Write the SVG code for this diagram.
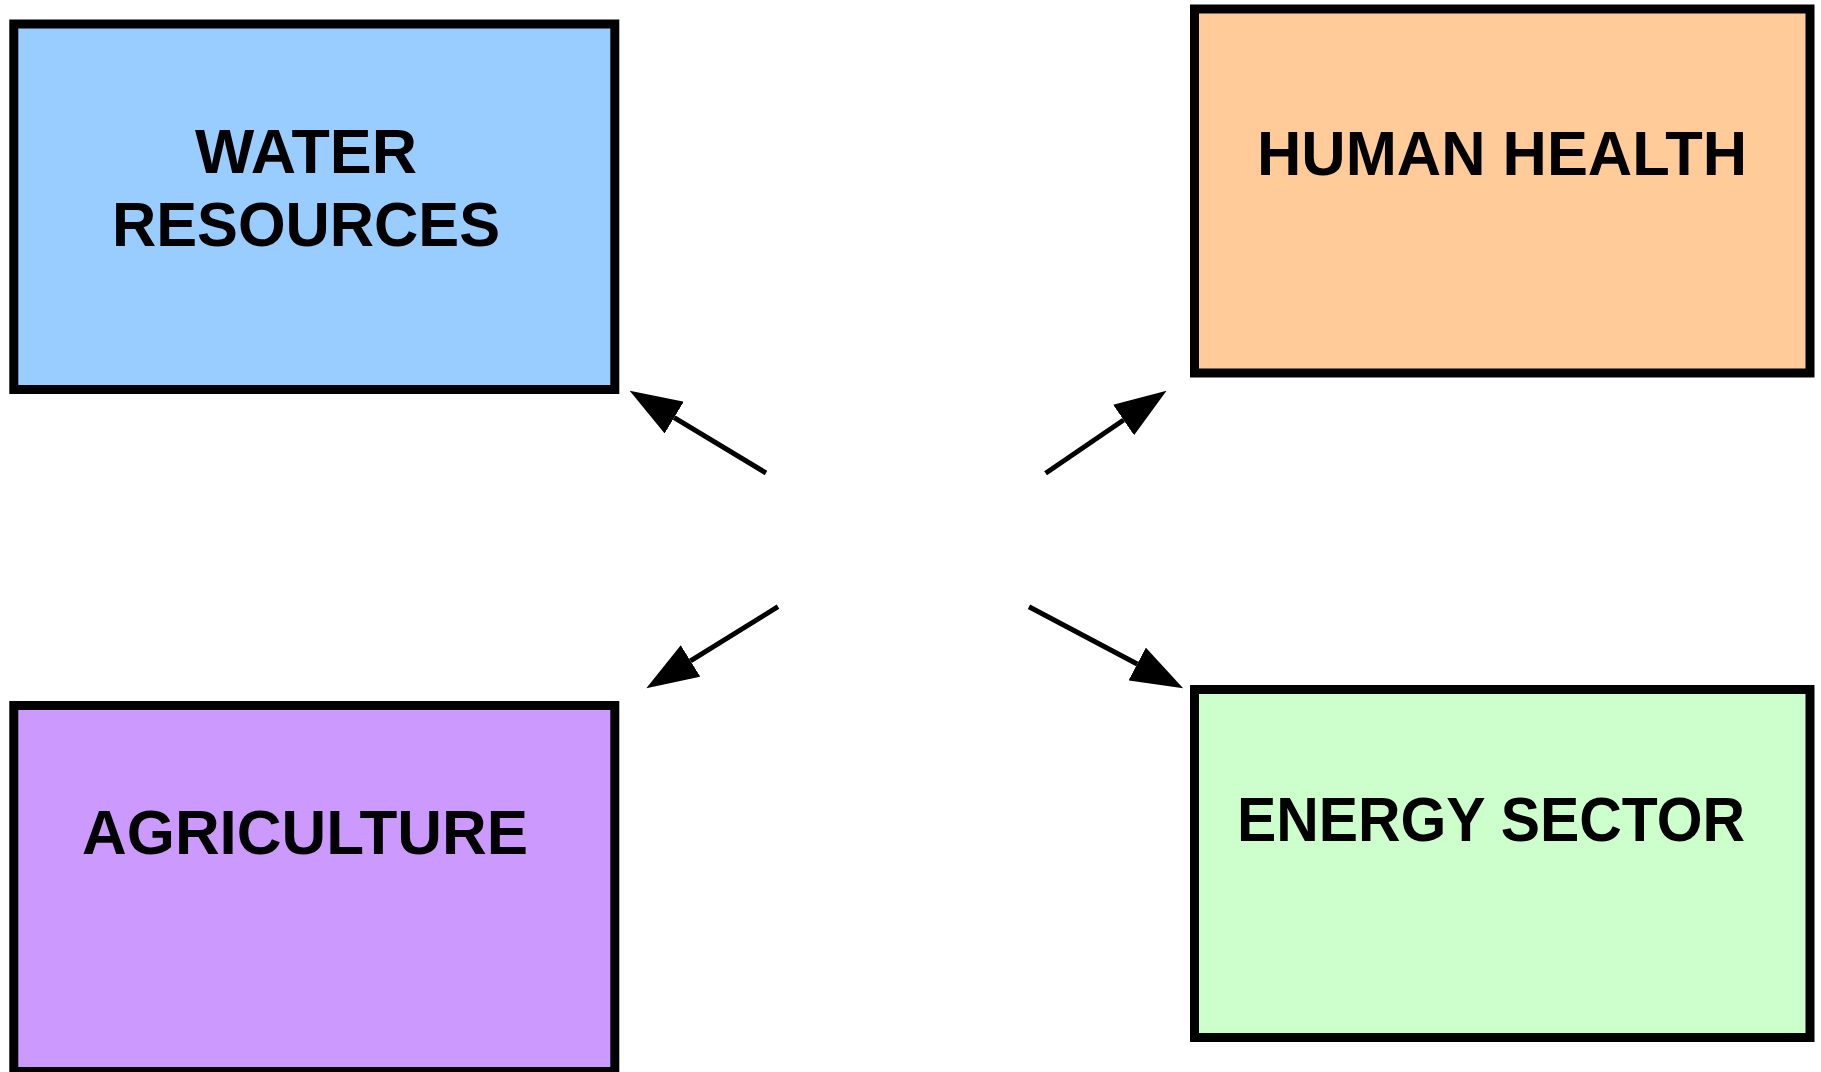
<svg xmlns="http://www.w3.org/2000/svg" width="1821" height="1072" viewBox="0 0 1821 1072">
  <style>
    .box { stroke: #000000; stroke-width: 9; }
    .lbl { font-family: "Liberation Sans", Arial, sans-serif; font-weight: bold; font-size: 63px; fill: #000000; text-anchor: middle; }
    .conn { stroke: #000000; stroke-width: 5; fill: none; }
  </style>
  <defs>
    <marker id="ah" viewBox="0 0 52 37" refX="0" refY="18.5" markerWidth="52" markerHeight="37" markerUnits="userSpaceOnUse" orient="auto">
      <path d="M0,0 L52,18.5 L0,37 Z" fill="#000000"/>
    </marker>
  </defs>
  <rect width="1821" height="1072" fill="#ffffff"/>
  <g id="water-resources">
    <rect class="box" x="13.8" y="24" width="601" height="365.5" fill="#99CCFF"/>
    <text class="lbl" x="306" y="173" textLength="222" lengthAdjust="spacingAndGlyphs">WATER</text>
    <text class="lbl" x="306" y="245.5" textLength="388" lengthAdjust="spacingAndGlyphs">RESOURCES</text>
  </g>
  <g id="human-health">
    <rect class="box" x="1194.5" y="9" width="615.5" height="364" fill="#FFCC99"/>
    <text class="lbl" x="1502" y="175" textLength="490" lengthAdjust="spacingAndGlyphs">HUMAN HEALTH</text>
  </g>
  <g id="agriculture">
    <rect class="box" x="13.8" y="705.5" width="601" height="366" fill="#CC99FF"/>
    <text class="lbl" x="305" y="854" textLength="446" lengthAdjust="spacingAndGlyphs">AGRICULTURE</text>
  </g>
  <g id="energy-sector">
    <rect class="box" x="1194.5" y="689.5" width="615.5" height="348" fill="#CCFFCC"/>
    <text class="lbl" x="1491" y="841" textLength="508" lengthAdjust="spacingAndGlyphs">ENERGY SECTOR</text>
  </g>
  <g id="connectors">
    <line class="conn" x1="766" y1="473" x2="674.2" y2="417.6" marker-end="url(#ah)"/>
    <line class="conn" x1="1045.6" y1="473.3" x2="1123.6" y2="420" marker-end="url(#ah)"/>
    <line class="conn" x1="778" y1="606.7" x2="690.5" y2="660.9" marker-end="url(#ah)"/>
    <line class="conn" x1="1029" y1="606.7" x2="1137.2" y2="664" marker-end="url(#ah)"/>
  </g>
</svg>
